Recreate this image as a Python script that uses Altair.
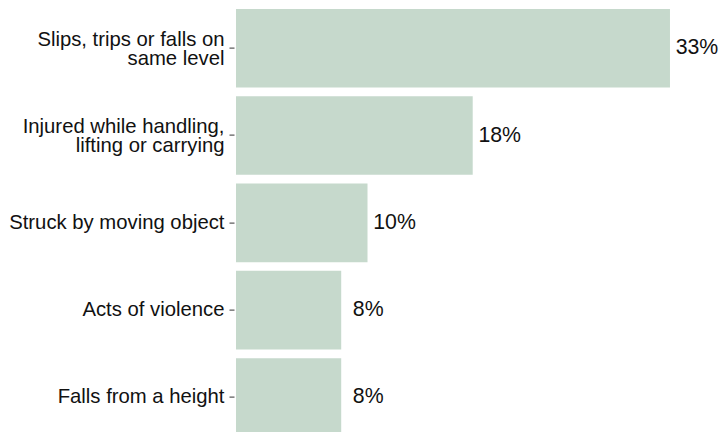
import altair as alt
import pandas as pd

categories = [
    "Slips, trips or falls on\nsame level",
    "Injured while handling,\nlifting or carrying",
    "Struck by moving object",
    "Acts of violence",
    "Falls from a height",
]
values = [33, 18, 10, 8, 8]
labels = ["33%", "18%", "10%", "8%", "8%"]

df = pd.DataFrame({"cat": categories, "val": values, "lab": labels})

y_enc = alt.Y(
    "cat:N",
    sort=categories,
    title=None,
    scale=alt.Scale(paddingInner=0.1, paddingOuter=0.05, range=[0, 436.5]),
    axis=alt.Axis(
        domain=False,
        ticks=True,
        tickSize=5,
        tickColor="#333333",
        offset=2,
        labelPadding=5,
        labelFont="Liberation Sans",
        labelFontSize=20.3,
        labelColor="#111111",
        labelLimit=0,
        labelLineHeight=19,
        labelOffset=alt.condition("indexof(datum.label, '\\n') >= 0", alt.value(-8.5), alt.value(0)),
        labelExpr="split(datum.label, '\\n')",
    ),
)
x_enc = alt.X("val:Q", scale=alt.Scale(domain=[0, 36.88], nice=False), axis=None)

bars = alt.Chart(df).mark_bar(color="#c6d9cc", clip=True).encode(x=x_enc, y=y_enc)
text = alt.Chart(df).mark_text(
    align="center", baseline="middle", dx=27, fontSize=21.3,
    font="Liberation Sans", color="#111111"
).encode(x=x_enc, y=y_enc, text="lab:N")

chart = (bars + text).properties(
    width=485,
    height=427.4,
    padding={"left": 236, "top": 4.6, "right": 0, "bottom": 0},
    autosize=alt.AutoSizeParams(type="none"),
).configure_view(stroke=None)

chart.save("out.html", embed_options={"renderer": "svg", "actions": False})
